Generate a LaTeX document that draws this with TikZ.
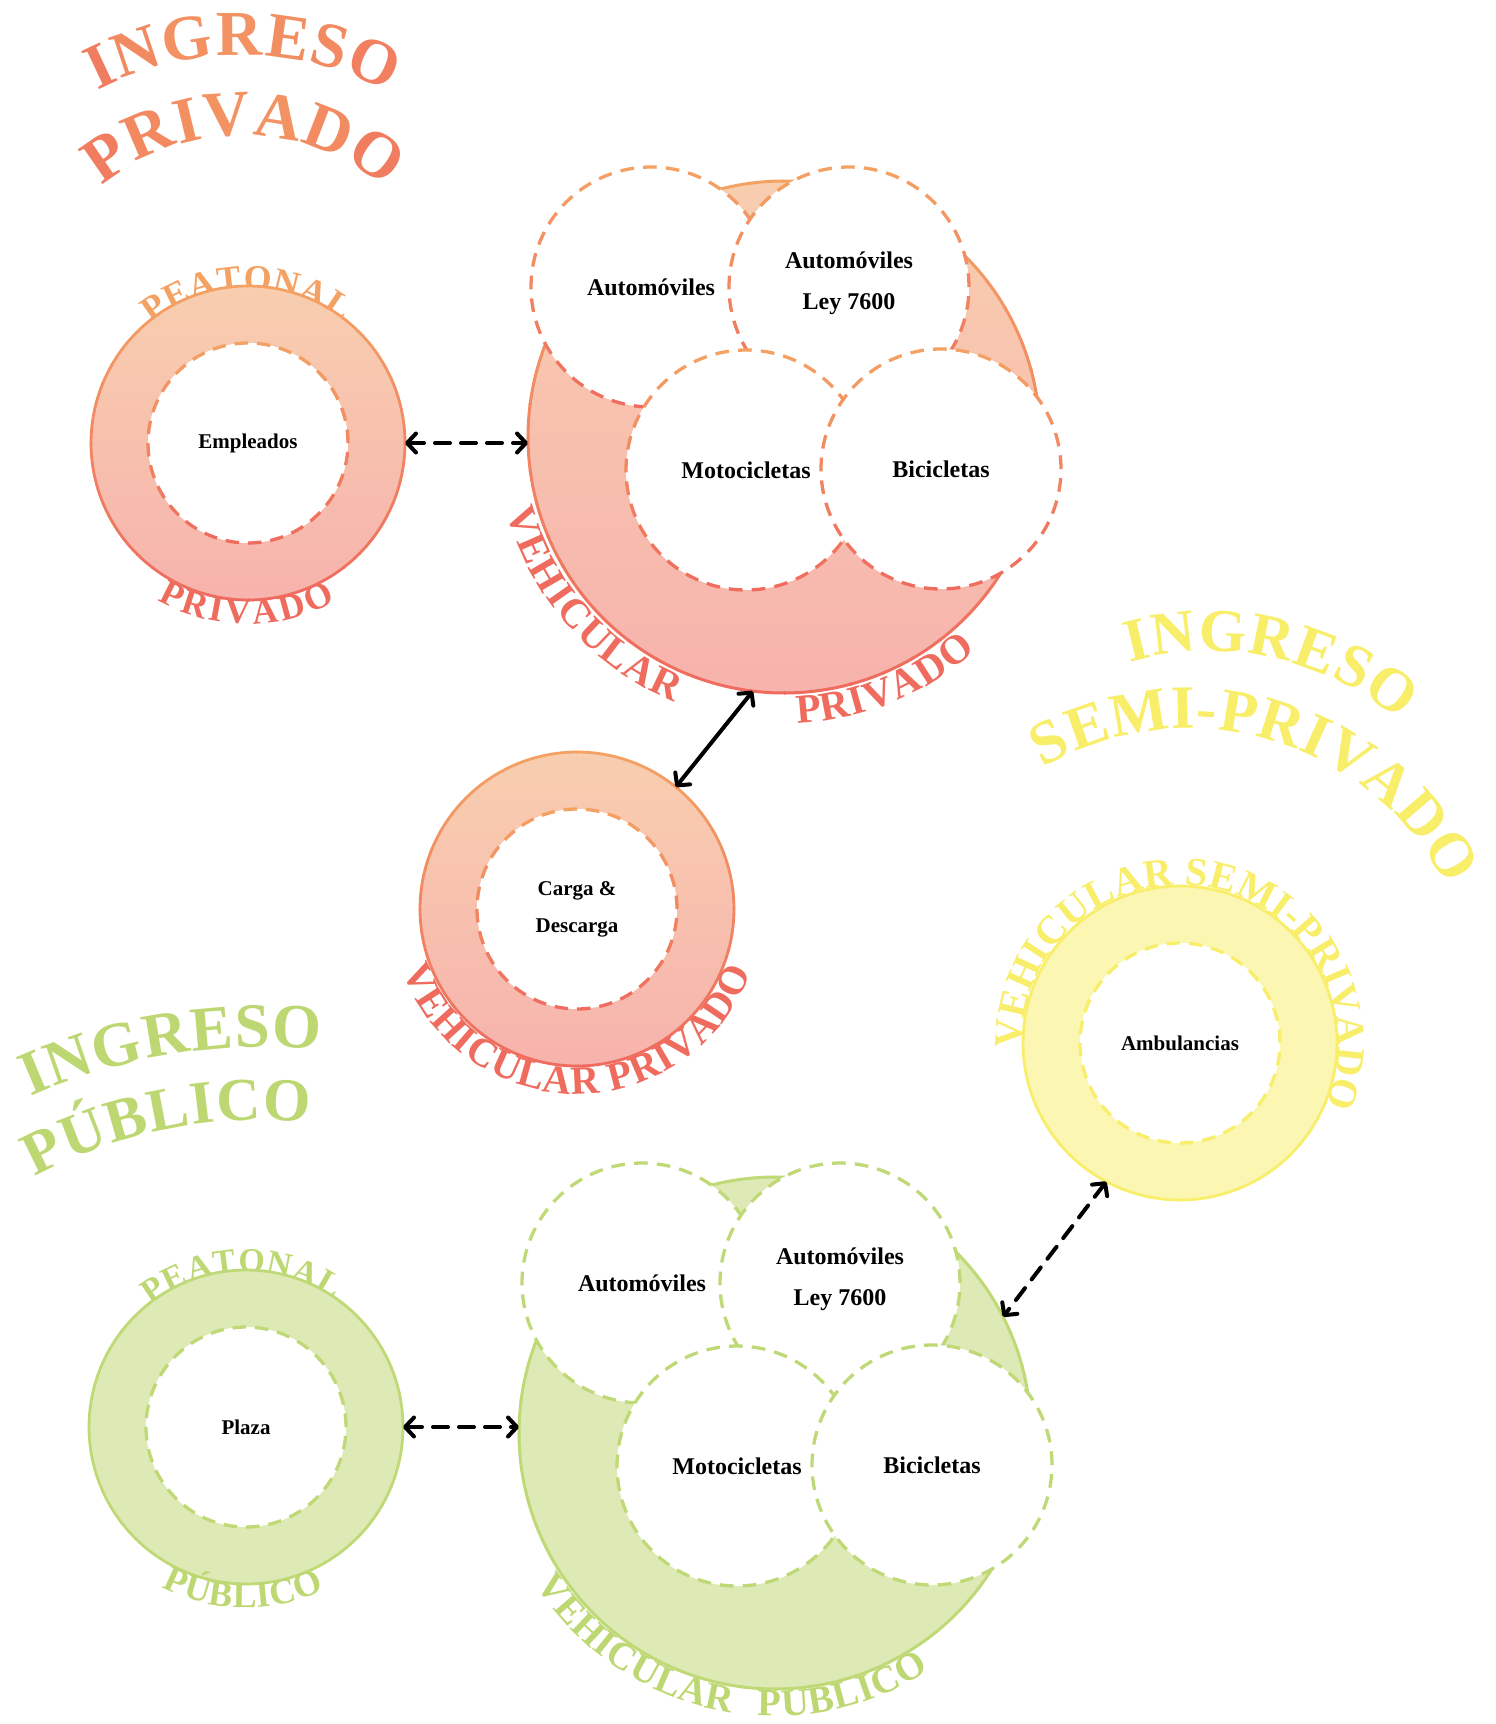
\documentclass[tikz,border=0pt]{standalone}
\usepackage{fontspec}
\setmainfont{Liberation Serif}
\usetikzlibrary{decorations.text,arrows.meta}

\definecolor{oTop}{HTML}{F4A264}
\definecolor{oBot}{HTML}{EF6B5E}
\definecolor{oFillTop}{HTML}{F8CEAF}
\definecolor{oFillBot}{HTML}{F7B3AD}
\definecolor{gLine}{HTML}{BFD977}
\definecolor{gFill}{HTML}{DDEAB6}
\definecolor{gText}{HTML}{BDD873}
\definecolor{yLine}{HTML}{F8EE6A}
\definecolor{yFill}{HTML}{FBF7B3}

\newcommand{\fTa}{\fontsize{64}{64}\selectfont\bfseries}
\newcommand{\fTb}{\fontsize{65}{65}\selectfont\bfseries}
\newcommand{\fTc}{\fontsize{61}{61}\selectfont\bfseries}
\newcommand{\fTd}{\fontsize{61.5}{61.5}\selectfont\bfseries}
\newcommand{\fTe}{\fontsize{63}{63}\selectfont\bfseries}
\newcommand{\fBig}{\fontsize{41}{41}\selectfont\bfseries}
\newcommand{\fMid}{\fontsize{40}{40}\selectfont\bfseries}
\newcommand{\fGr}{\fontsize{38.5}{38.5}\selectfont\bfseries}
\newcommand{\fSmall}{\fontsize{36}{36}\selectfont\bfseries}
\newcommand{\fSm}{\fontsize{34}{34}\selectfont\bfseries}
% title letter formats (font + colour mix)
\newcommand{\ca}[1]{\fTa\color{oBot!#1!oTop}}
\newcommand{\cb}[1]{\fTb\color{oBot!#1!oTop}}

% solid circle outline with vertical colour gradient
\newcommand{\gradCircle}[5]{%
  \foreach \k in {1,...,48}{%
    \pgfmathsetmacro{\segA}{(\k-1)*7.5}%
    \pgfmathsetmacro{\segB}{\k*7.5+0.4}%
    \pgfmathtruncatemacro{\segP}{round(50*(1+sin(\segA+3.75)))}%
    \draw[line width=#5, draw=#3!\segP!#4] (#1) ++(\segA:#2) arc[start angle=\segA, end angle=\segB, radius=#2];
  }}
% dashed circle outline with vertical colour gradient
\newcommand{\gradDashed}[6]{%
  \foreach \k in {1,...,#6}{%
    \pgfmathsetmacro{\segA}{(\k-1)*360/#6}%
    \pgfmathsetmacro{\segB}{\segA+0.6*360/#6}%
    \pgfmathtruncatemacro{\segP}{round(50*(1+sin(\segA+0.3*360/#6)))}%
    \draw[line width=#5, draw=#3!\segP!#4] (#1) ++(\segA:#2) arc[start angle=\segA, end angle=\segB, radius=#2];
  }}
% text along an arc
\newcommand{\arcText}[7]{%
  \path[decorate, decoration={text along path, text align={fit to path}, text color=#5, text={|#6|#7}}]
    (#1) ++(#3:#2) arc[start angle=#3, end angle=#4, radius=#2];}
% text along an arc, formats given inside the text
\newcommand{\arcTextC}[5]{%
  \path[decorate, decoration={text along path, text align={fit to path}, text={#5}}]
    (#1) ++(#3:#2) arc[start angle=#3, end angle=#4, radius=#2];}
% ring: shaded annulus, dashed inner circle, solid outer circle
\newcommand{\ringshape}[5]{%
  \shade[top color=#2, bottom color=#3] (#1.center) circle[radius=157];
  \fill[white] (#1.center) circle[radius=100];
  \gradDashed{#1.center}{100}{#4}{#5}{3.3pt}{28}
  \gradCircle{#1.center}{157}{#4}{#5}{2.8pt}}
\newcommand{\subcirc}[3]{%
  \fill[white] (#1.center) circle[radius=120];
  \gradDashed{#1.center}{120}{#2}{#3}{3.3pt}{33}}

\begin{document}
\begin{tikzpicture}[x=1pt,y=1pt,
  geo/.style={circle, inner sep=0pt, outer sep=0pt, minimum size=#1},
  lblA/.style={font=\fontsize{21}{37}\selectfont\bfseries, align=center, inner sep=0pt},
  lblB/.style={font=\fontsize{24}{41}\selectfont\bfseries, align=center, inner sep=0pt},
  biarrow/.style={line width=4pt, line cap=round,
    {Straight Barb[round,length=9pt,width=19pt]}-{Straight Barb[round,length=9pt,width=19pt]}},
  dashline/.style={dash pattern=on 15pt off 11pt}]
\useasboundingbox (0,0) rectangle (1496,-1724);

% geometry nodes
\node[geo=314pt] (emp) at (248,-443) {};
\node[geo=512pt] (vp) at (784,-437) {};
\node[geo=240pt] (vpA) at (651,-287) {};
\node[geo=240pt] (vpB) at (849,-287) {};
\node[geo=240pt] (vpC) at (746,-470) {};
\node[geo=240pt] (vpD) at (941,-469) {};
\node[geo=314pt] (carga) at (577,-909) {};
\node[geo=314pt] (amb) at (1180,-1043) {};
\node[geo=314pt] (plaza) at (246,-1427) {};
\node[geo=512pt] (gvp) at (775,-1433) {};
\node[geo=240pt] (gvpA) at (642,-1283) {};
\node[geo=240pt] (gvpB) at (840,-1283) {};
\node[geo=240pt] (gvpC) at (737,-1466) {};
\node[geo=240pt] (gvpD) at (932,-1465) {};

% titles
\arcTextC{241.4,-367.7}{312.5}{117.5}{61.9}{|\ca{68}|I|\ca{43}|N|\ca{31}|G|\ca{30}|R|\ca{34}|E|\ca{46}|S|\ca{63}|O}
\arcTextC{242.2,-354}{218.8}{129.9}{49.1}{|\cb{68}|P|\cb{46}|R|\cb{32}|I|\cb{27}|V|\cb{30}|A|\cb{42}|D|\cb{67}|O}
\arcText{1209.5,-945.4}{294}{105.8}{49.8}{yLine}{\fTc}{INGRESO}
\arcText{1189,-1017.4}{289}{120.3}{26.8}{yLine}{\fTd}{SEMI-PRIVADO}
\arcText{264.8,-1623.9}{577}{114}{84.5}{gText}{\fTe}{INGRESO}
\arcText{260.9,-1596.8}{477}{118.3}{84.1}{gText}{\fTc}{PÚBLICO}

% private pedestrian
\arcText{emp.center}{153}{129}{52}{oTop}{\fSmall}{PEATONAL}
\ringshape{emp}{oFillTop}{oFillBot}{oTop}{oBot}
\arcText{emp.center}{181}{240}{299}{oBot}{\fSmall}{PRIVADO}

% private vehicular
\arcText{vp.center}{287}{195}{247.5}{oBot}{\fBig}{VEHICULAR}
\arcText{vp.center}{287}{272.6}{311.9}{oBot}{\fBig}{PRIVADO}
\shade[top color=oFillTop, bottom color=oFillBot] (vp.center) circle[radius=256];
\gradCircle{vp.center}{256}{oTop}{oBot}{3pt}
\subcirc{vpA}{oTop}{oBot}
\subcirc{vpB}{oTop}{oBot}
\subcirc{vpC}{oTop}{oBot}
\subcirc{vpD}{oTop}{oBot}

% loading
\ringshape{carga}{oFillTop}{oFillBot}{oTop}{oBot}
\arcText{carga.center}{185}{199.5}{340}{oBot}{\fMid}{VEHICULAR PRIVADO}

% semi-private
\ringshape{amb}{yFill}{yFill}{yLine}{yLine}
\arcText{amb.center}{158}{182}{-23}{yLine}{\fMid}{VEHICULAR SEMI-PRIVADO}

% public pedestrian
\arcText{plaza.center}{155}{127.8}{55.6}{gText}{\fSm}{PEATONAL}
\ringshape{plaza}{gFill}{gFill}{gLine}{gLine}
\arcText{plaza.center}{181}{242.2}{295.6}{gText}{\fSmall}{PÚBLICO}

% public vehicular
\arcText{gvp.center}{283}{212.4}{261.1}{gText}{\fGr}{VEHICULAR}
\arcText{gvp.center}{283}{266.5}{303}{gText}{\fGr}{PÚBLICO}
\fill[gFill] (gvp.center) circle[radius=256];
\gradCircle{gvp.center}{256}{gLine}{gLine}{3pt}
\subcirc{gvpA}{gLine}{gLine}
\subcirc{gvpB}{gLine}{gLine}
\subcirc{gvpC}{gLine}{gLine}
\subcirc{gvpD}{gLine}{gLine}

% labels
\node[lblA] (empL) at (emp.center) {Empleados};
\node[lblB] (vpAL) at (vpA.center) {Automóviles};
\node[lblB] (vpBL) at ([yshift=4pt]vpB.center) {Automóviles\\Ley 7600};
\node[lblB] (vpCL) at (vpC.center) {Motocicletas};
\node[lblB] (vpDL) at (vpD.center) {Bicicletas};
\node[lblA] (cargaL) at (carga.center) {Carga \&\\Descarga};
\node[lblA] (ambL) at (amb.center) {Ambulancias};
\node[lblA] (plazaL) at (plaza.center) {Plaza};
\node[lblB] (gvpAL) at (gvpA.center) {Automóviles};
\node[lblB] (gvpBL) at ([yshift=4pt]gvpB.center) {Automóviles\\Ley 7600};
\node[lblB] (gvpCL) at (gvpC.center) {Motocicletas};
\node[lblB] (gvpDL) at (gvpD.center) {Bicicletas};

% connectors
\draw[biarrow, dashline] (emp.east) -- (emp.east -| vp.west);
\draw[biarrow] (vp.-97) -- (carga.51);
\draw[biarrow, dashline] (plaza.east) -- (plaza.east -| gvp.west);
\draw[biarrow, dashline] (amb.242) -- (gvp.27);
\end{tikzpicture}
\end{document}
